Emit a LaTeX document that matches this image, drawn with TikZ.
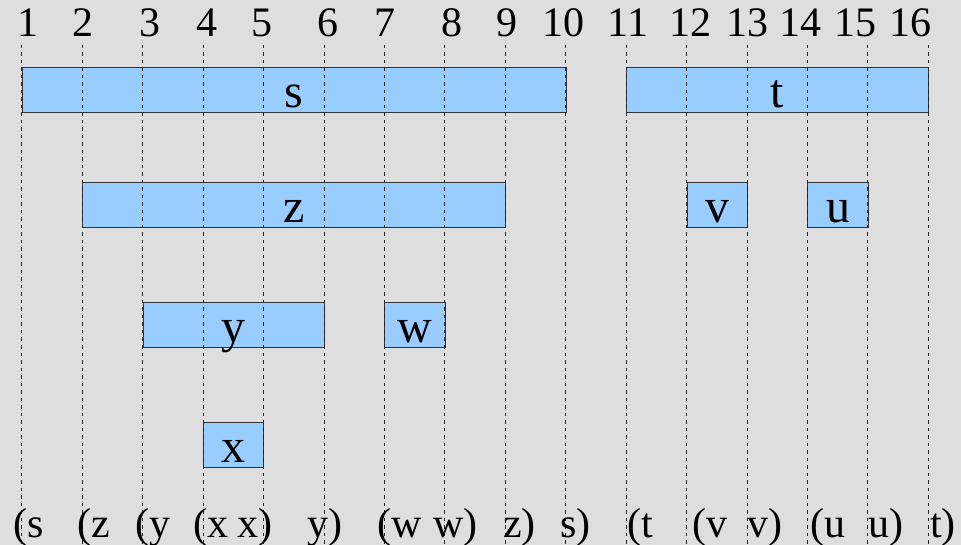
\documentclass[tikz,border=0pt]{standalone}
\usepackage{fontspec}
\setmainfont{Liberation Serif}
\definecolor{bgGrey}{HTML}{DEDEDE}
\definecolor{boxBlue}{HTML}{99CCFF}
\definecolor{edgeGrey}{HTML}{333333}

\begin{document}
\begin{tikzpicture}[x=1pt,y=-1pt,
  seg/.style={draw=edgeGrey,line width=0.9pt,fill=boxBlue,inner sep=0pt,minimum height=45pt,anchor=north west},
  guide/.style={draw=black!85,line width=0.8pt,dash pattern=on 3.5pt off 4pt},
  big/.style={font=\fontsize{48}{50}\selectfont,inner sep=0pt,anchor=base},
  num/.style={font=\fontsize{42}{44}\selectfont,inner sep=0pt,anchor=base},
  brk/.style={font=\fontsize{42}{44}\selectfont,inner sep=0pt,anchor=base west}]
  \fill[bgGrey] (0,0) rectangle (961,545);
  \useasboundingbox (0,0) rectangle (961,545);
  % intervals
  \foreach \nm/\a/\b/\row in {s/1/10/67, t/11/16/67, z/2/9/182, v/12/13/182,
                              u/14/15/182, y/3/6/302, w/7/8/302, x/4/5/422} {
    \pgfmathsetmacro\xl{21.7+(\a-1)*60.44}
    \pgfmathsetmacro\len{(\b-\a)*60.44}
    \node[seg,minimum width=\len pt] (\nm) at (\xl,\row) {};
    \node[big] (\nm-lbl) at ([yshift=5pt]\nm.south) {\nm};
  }
  % guide lines
  \foreach \i in {1,...,16} {
    \pgfmathsetmacro\xg{21.7+(\i-1)*60.44}
    \coordinate (top\i) at (\xg,45);
    \coordinate (bot\i) at (\xg,545);
    \draw[guide] (top\i) -- (bot\i);
  }
  % positions
  \foreach \n/\xc in {1/28,2/83,3/150,4/207,5/262,6/328,7/385,8/452,9/507,10/563,
                      11/628,12/690,13/747,14/800,15/855,16/910}
    \node[num] (n\n) at (\xc,37) {\n};
  % bracket sequence
  \foreach \txt/\xs [count=\k] in {{(s}/13,{(z}/77,{(y}/135,{(x}/193,{x)}/237,{y)}/307,
                                   {(w}/377,{w)}/433,{z)}/503,{s)}/560,{(t}/627,{(v}/692,
                                   {v)}/747,{(u}/810,{u)}/868,{t)}/930}
    \node[brk] (p\k) at (\xs,537) {\txt};
\end{tikzpicture}
\end{document}
